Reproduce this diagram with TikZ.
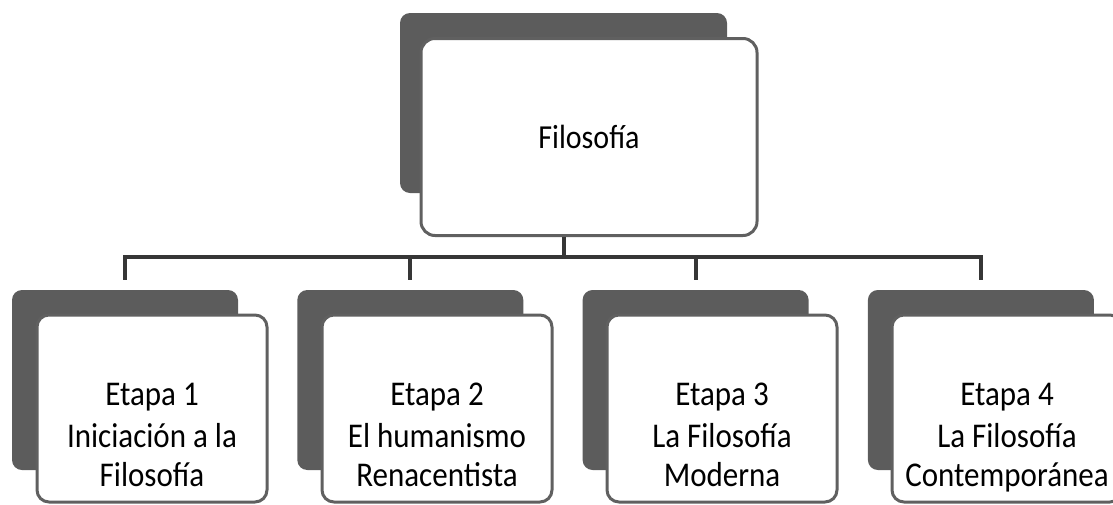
\documentclass[tikz,border=0pt]{standalone}
\usepackage{fontspec}
\setmainfont{Carlito}
\newcommand{\vstr}[1]{\scalebox{1}[1.12]{#1}}
\definecolor{shadowgray}{HTML}{5C5C5C}
\definecolor{bordergray}{HTML}{606060}
\definecolor{conngray}{HTML}{363636}
\begin{document}
\begin{tikzpicture}[x=1pt,y=-1pt,
  back/.style={draw=none,fill=shadowgray,rounded corners=10pt,inner sep=0pt,minimum width=226pt,minimum height=180pt},
  front/.style={draw=bordergray,line width=3pt,fill=white,rounded corners=12pt,inner sep=0pt,minimum width=230pt,minimum height=187pt},
  lbl/.style={inner sep=0pt,align=center,anchor=base,font=\fontsize{31}{39}\selectfont},
  conn/.style={draw=conngray,line width=4pt}]
\useasboundingbox (0,0) rectangle (1113,504);
% top node
\node[back,minimum width=327pt,minimum height=180pt] (s0) at (563.5,103) {};
\node[front,minimum width=336pt,minimum height=197pt,rounded corners=14pt,font=\fontsize{30}{30}\selectfont] (t0) at (589,137) {\vstr{Filosofía}};
% bottom nodes
\foreach \i/\a/\b/\c in {1/Etapa 1/Iniciación a la/Filosofía,
                         2/Etapa 2/El humanismo/Renacentista,
                         3/Etapa 3/La Filosofía/Moderna,
                         4/Etapa 4/La Filosofía/Contemporánea}{
  \pgfmathsetmacro{\sx}{125+285.3*(\i-1)}
  \pgfmathsetmacro{\fx}{152+285*(\i-1)}
  \node[back] (s\i) at (\sx,380) {};
  \node[front] (t\i) at (\fx,408.5) {};
  \node[lbl] (l\i) at (\fx,486) {\vstr{\a}\\[3pt]\vstr{\b}\\ \vstr{\c}};
}
% connectors
\coordinate (bus) at (563.5,257);
\draw[conn] (t0.south -| s0.south) -- (bus);
\draw[conn] ([yshift=10pt]s1.north) |- (bus) -| ([yshift=10pt]s4.north);
\draw[conn] ([yshift=10pt]s2.north) -- (s2.north |- bus);
\draw[conn] ([yshift=10pt]s3.north) -- (s3.north |- bus);
\end{tikzpicture}
\end{document}
